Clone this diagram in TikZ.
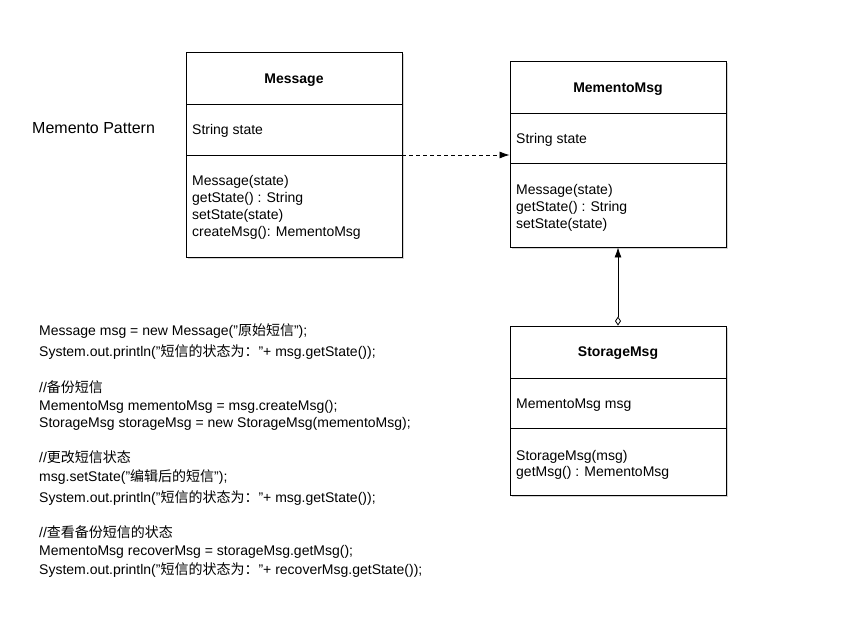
\documentclass[tikz,border=0pt]{standalone}
\usepackage{fontspec}
\setmainfont{Liberation Sans}
\newfontfamily\cjkf{Noto Sans CJK SC}
\newcommand{\zh}[1]{{\cjkf #1}}
\usetikzlibrary{arrows.meta,shadows}
\begin{document}
\begin{tikzpicture}[x=1pt,y=-1pt,
  umlbox/.style={draw=black, line width=0.9pt, fill=white, inner sep=0pt,
     minimum width=216pt, drop shadow={shadow xshift=1.5pt, shadow yshift=-2pt, opacity=0.35}},
  ttl/.style={font=\fontsize{14}{17}\selectfont\bfseries, inner sep=0pt, anchor=base},
  txt/.style={font=\fontsize{14}{17}\selectfont, inner sep=0pt, anchor=base west},
  code/.style={font=\fontsize{14}{17}\selectfont, inner sep=0pt, anchor=base west},
  divl/.style={line width=0.9pt}]
\useasboundingbox (0,0) rectangle (849,644);

% Title
\node[txt, font=\fontsize{16}{19}\selectfont] (title) at (32,134) {Memento Pattern};

% Message box
\node[umlbox, minimum height=205pt] (msg) at (294,154.5) {};
\draw[divl] (186,104) -- (402,104);
\draw[divl] (186,155) -- (402,155);
\node[ttl] (msgt) at (294,84) {Message};
\node[txt] (msga) at (192,135) {String state};
\node[txt] (msgm1) at (192,186) {Message(state)};
\node[txt] (msgm2) at (192,203) {getState() : String};
\node[txt] (msgm3) at (192,220) {setState(state)};
\node[txt] (msgm4) at (192,237) {createMsg(): MementoMsg};

% MementoMsg box
\node[umlbox, minimum height=186pt] (mem) at (618,154) {};
\draw[divl] (510,113) -- (726,113);
\draw[divl] (510,163) -- (726,163);
\node[ttl] (memt) at (618,93) {MementoMsg};
\node[txt] (mema) at (516,144) {String state};
\node[txt] (memm1) at (516,195) {Message(state)};
\node[txt] (memm2) at (516,212) {getState() : String};
\node[txt] (memm3) at (516,229) {setState(state)};

% StorageMsg box
\node[umlbox, minimum height=169pt] (sto) at (618,410.5) {};
\draw[divl] (510,378) -- (726,378);
\draw[divl] (510,428) -- (726,428);
\node[ttl] (stot) at (618,357) {StorageMsg};
\node[txt] (stoa) at (516,408) {MementoMsg msg};
\node[txt] (stom1) at (516,460) {StorageMsg(msg)};
\node[txt] (stom2) at (516,476) {getMsg() : MementoMsg};

% connectors
\coordinate (ys) at (0,155);
\draw[line width=0.8pt, dash pattern=on 4pt off 3pt, -{Latex[length=10pt,width=7pt]}]
  (msg.east |- ys) -- (mem.west |- ys);
\draw[line width=0.8pt, {Diamond[open,length=9pt,width=6pt]}-{Latex[length=10pt,width=7pt]}]
  (sto.north) -- (mem.south);

% code
\node[code] (c1) at (39,336) {Message msg = new Message("\zh{原始短信}");};
\node[code] (c2) at (39,357) {System.out.println("\zh{短信的状态为：}"+ msg.getState());};
\node[code] (c3) at (39,392) {//\zh{备份短信}};
\node[code] (c4) at (39,410) {MementoMsg mementoMsg = msg.createMsg();};
\node[code] (c5) at (39,427) {StorageMsg storageMsg = new StorageMsg(mementoMsg);};
\node[code] (c6) at (39,462) {//\zh{更改短信状态}};
\node[code] (c7) at (39,481) {msg.setState("\zh{编辑后的短信}");};
\node[code] (c8) at (39,502) {System.out.println("\zh{短信的状态为：}"+ msg.getState());};
\node[code] (c9) at (39,537) {//\zh{查看备份短信的状态}};
\node[code] (c10) at (39,555) {MementoMsg recoverMsg = storageMsg.getMsg();};
\node[code] (c11) at (39,574) {System.out.println("\zh{短信的状态为：}"+ recoverMsg.getState());};
\end{tikzpicture}
\end{document}
